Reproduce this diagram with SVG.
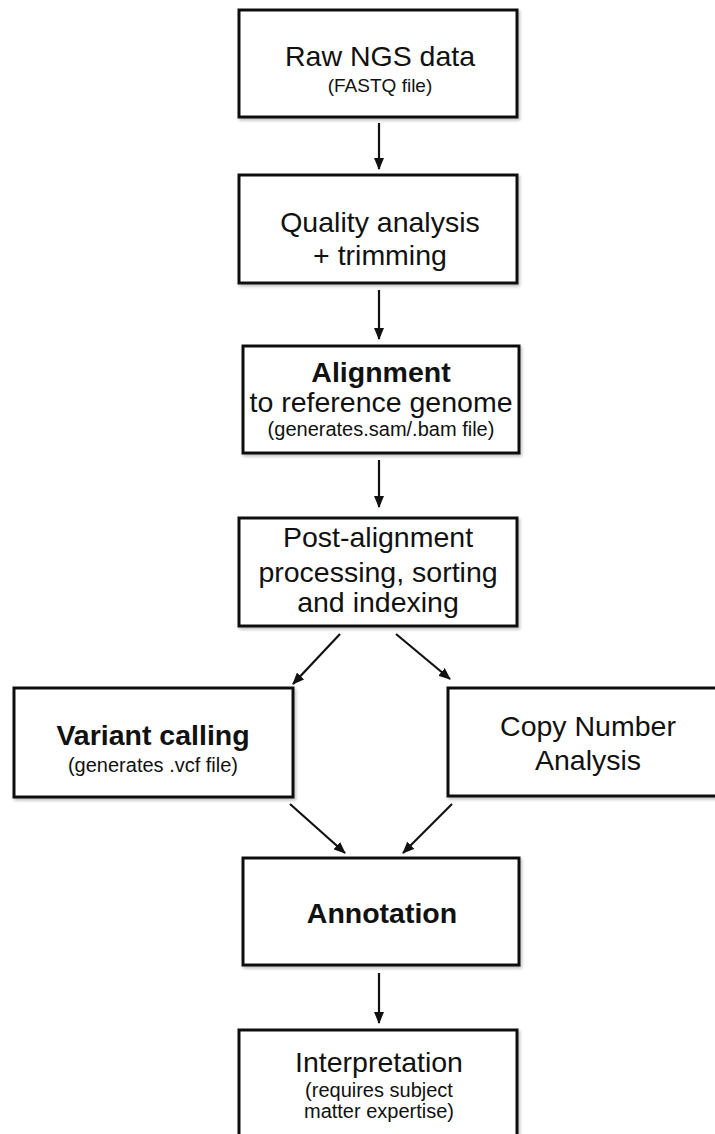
<svg xmlns="http://www.w3.org/2000/svg" width="715" height="1134" viewBox="0 0 715 1134">
<style>
.box{fill:#fff;stroke:#111;stroke-width:3;filter:url(#sh)}
.t{font-family:"Liberation Sans",Arial,sans-serif;font-size:28.5px;fill:#111;text-anchor:middle}
.b{font-weight:bold}
.s{font-size:20px}
.c{stroke:#111;stroke-width:2.2;fill:none;marker-end:url(#ah)}
</style>
<defs>
<filter id="sh" x="-5%" y="-5%" width="112%" height="115%">
<feDropShadow dx="1.5" dy="2" stdDeviation="1.5" flood-color="#000" flood-opacity="0.25"/>
</filter>
<marker id="ah" viewBox="0 0 12 10" refX="11" refY="5" markerWidth="12" markerHeight="10" markerUnits="userSpaceOnUse" orient="auto">
<path d="M0,0 L12,5 L0,10 Z" fill="#111"/>
</marker>
</defs>
<g id="connectors">
<line class="c" x1="379" y1="123" x2="379" y2="169"/>
<line class="c" x1="379" y1="290" x2="379" y2="339"/>
<line class="c" x1="379" y1="460" x2="379" y2="507"/>
<line class="c" x1="340" y1="634" x2="293" y2="684"/>
<line class="c" x1="396" y1="634" x2="450" y2="679"/>
<line class="c" x1="290" y1="804" x2="345" y2="853"/>
<line class="c" x1="452" y1="804" x2="403" y2="853"/>
<line class="c" x1="379" y1="973" x2="379" y2="1023"/>
</g>
<g id="raw">
<rect class="box" x="239" y="10" width="278" height="107"/>
<text class="t" x="380" y="66">Raw NGS data</text>
<text class="t" x="380" y="92" style="font-size:19px">(FASTQ file)</text>
</g>
<g id="quality">
<rect class="box" x="239" y="175" width="278" height="108"/>
<text class="t" x="380" y="232">Quality analysis</text>
<text class="t" x="380" y="265">+ trimming</text>
</g>
<g id="alignment">
<rect class="box" x="243" y="346" width="276" height="107"/>
<text class="t b" x="381" y="382">Alignment</text>
<text class="t" x="381" y="412">to reference genome</text>
<text class="t s" x="381" y="436">(generates.sam/.bam file)</text>
</g>
<g id="post">
<rect class="box" x="239" y="518" width="278" height="108"/>
<text class="t" x="378" y="547">Post-alignment</text>
<text class="t" x="378" y="582">processing, sorting</text>
<text class="t" x="378" y="612">and indexing</text>
</g>
<g id="variant">
<rect class="box" x="14" y="688" width="279" height="109"/>
<text class="t b" x="153" y="745">Variant calling</text>
<text class="t s" x="153" y="772">(generates .vcf file)</text>
</g>
<g id="copy">
<rect class="box" x="448" y="688" width="290" height="108"/>
<text class="t" x="588" y="736">Copy Number</text>
<text class="t" x="588" y="770">Analysis</text>
</g>
<g id="annotation">
<rect class="box" x="243" y="858" width="276" height="107"/>
<text class="t b" x="382" y="923">Annotation</text>
</g>
<g id="interpretation">
<rect class="box" x="239" y="1030" width="278" height="120"/>
<text class="t" x="379" y="1072">Interpretation</text>
<text class="t s" x="379" y="1097">(requires subject</text>
<text class="t s" x="379" y="1118">matter expertise)</text>
</g>
</svg>
